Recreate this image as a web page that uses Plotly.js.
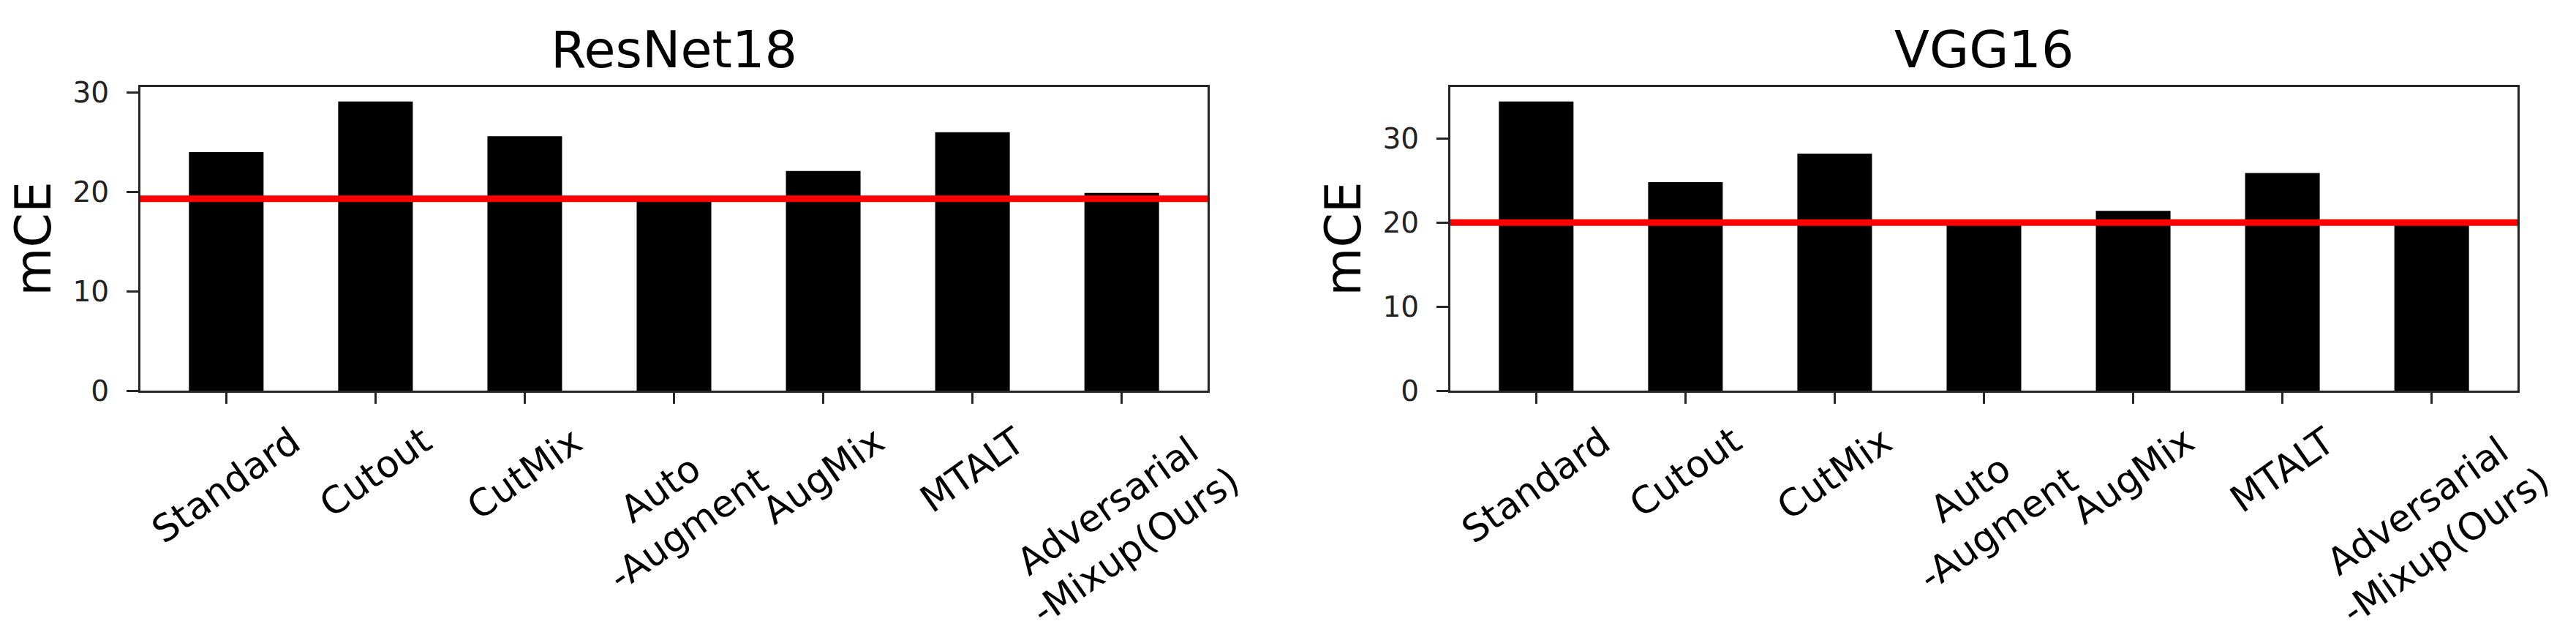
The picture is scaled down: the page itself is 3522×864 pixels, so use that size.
<!DOCTYPE html>
<html>
<head>
<meta charset="utf-8">
<script src="https://cdn.plot.ly/plotly-3.0.1.min.js"></script>
<style>
  body { margin: 0; background: #fff; }
  #chart { width: 3522px; height: 864px; }
</style>
</head>
<body>
<div id="chart"></div>
<script>
// categories and tick labels
const methods = ["Standard", "Cutout", "CutMix", "AutoAugment", "AugMix", "MTALT", "AdversarialMixup"];
const tickLabels = ["Standard", "Cutout", "CutMix", "Auto<br>-Augment", "AugMix", "MTALT", "Adversarial<br>-Mixup(Ours)"];

// mCE values
const resnetMCE = [24.0, 29.1, 25.6, 19.3, 22.1, 26.0, 19.9];
const vggMCE = [34.4, 24.8, 28.2, 20.0, 21.4, 25.9, 19.8];

// red reference lines
const resnetLine = 19.3;
const vggLine = 20.0;

const W = 3522, H = 864;
const font = "DejaVu Sans";
const frame = "#262626";

// plot areas in pixels
const yDom = [(H - 534) / H, (H - 119) / H];
const xDom1 = [192 / W, 1651 / W];
const xDom2 = [1983 / W, 3442 / W];

const data = [
  { x: methods, y: resnetMCE, type: "bar", width: 0.5, marker: { color: "#000" }, xaxis: "x", yaxis: "y", hoverinfo: "y" },
  { x: methods, y: vggMCE, type: "bar", width: 0.5, marker: { color: "#000" }, xaxis: "x2", yaxis: "y2", hoverinfo: "y" },
];

function xAxis(dom, anchor) {
  return {
    domain: dom, anchor: anchor, type: "category",
    range: [-0.575, methods.length - 1 + 0.575],
    showline: true, mirror: true, linecolor: frame, linewidth: 3,
    ticks: "outside", ticklen: 15, tickwidth: 3, tickcolor: frame,
    showticklabels: false, showgrid: false, zeroline: false, automargin: false,
  };
}

function yAxis(vals, anchor) {
  return {
    domain: yDom, anchor: anchor,
    range: [0, Math.max(...vals) * 1.05],
    tickvals: [0, 10, 20, 30],
    showline: true, mirror: true, linecolor: frame, linewidth: 3,
    ticks: "outside", ticklen: 16, tickwidth: 3, tickcolor: frame,
    ticklabelstandoff: 16,
    tickfont: { family: font, size: 39, color: "#222" },
    title: { text: "mCE", font: { family: font, size: 68, color: "#000" }, standoff: 8 },
    showgrid: false, zeroline: false, automargin: false,
  };
}

const annotations = [];
[["ResNet18", xDom1], ["VGG16", xDom2]].forEach(([t, dom]) => {
  annotations.push({
    text: t, xref: "paper", yref: "paper",
    x: (dom[0] + dom[1]) / 2, y: yDom[1], xanchor: "center", yanchor: "bottom", yshift: 8,
    showarrow: false, font: { family: font, size: 70, color: "#000" },
  });
});
["x", "x2"].forEach((ax) => {
  methods.forEach((m, i) => {
    annotations.push({
      text: tickLabels[i], xref: ax, yref: "paper",
      x: m, y: yDom[0], xanchor: "center", yanchor: "top", yshift: -36,
      textangle: -35, showarrow: false,
      font: { family: font, size: 51, color: "#000" },
    });
  });
});

const shapes = [
  { type: "line", xref: "x domain", yref: "y", x0: 0, x1: 1, y0: resnetLine, y1: resnetLine, line: { color: "#ff0000", width: 9 } },
  { type: "line", xref: "x2 domain", yref: "y2", x0: 0, x1: 1, y0: vggLine, y1: vggLine, line: { color: "#ff0000", width: 9 } },
];

const layout = {
  width: W, height: H,
  margin: { l: 0, r: 0, t: 0, b: 0, pad: 0 },
  paper_bgcolor: "#fff", plot_bgcolor: "#fff",
  showlegend: false,
  font: { family: font },
  xaxis: xAxis(xDom1, "y"),
  yaxis: yAxis(resnetMCE, "x"),
  xaxis2: xAxis(xDom2, "y2"),
  yaxis2: yAxis(vggMCE, "x2"),
  annotations: annotations,
  shapes: shapes,
};

Plotly.newPlot("chart", data, layout, { displayModeBar: false, staticPlot: true });
</script>
</body>
</html>
